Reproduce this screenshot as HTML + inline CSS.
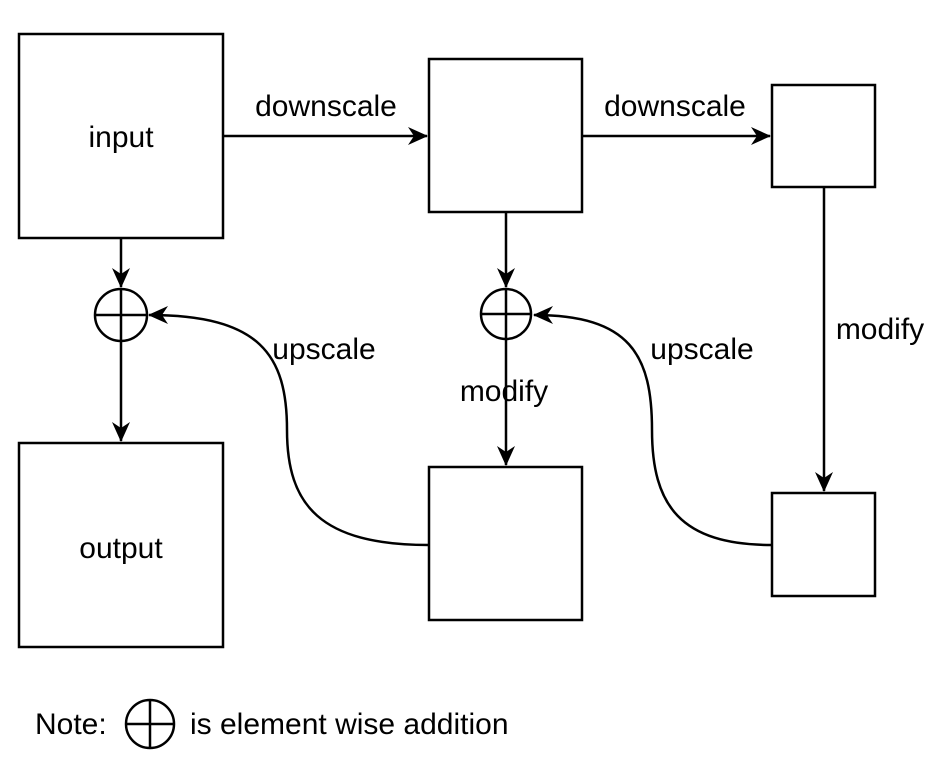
<!DOCTYPE html>
<html><head><style>
html,body{margin:0;padding:0;background:#fff;}
svg{display:block;}
text{font-family:"Liberation Sans",Arial,sans-serif;font-size:30px;fill:#000;}
</style></head><body>
<svg width="936" height="758" viewBox="0 0 936 758" xmlns="http://www.w3.org/2000/svg">
<defs>
<marker id="a" markerWidth="20" markerHeight="20" refX="19" refY="10" orient="auto" markerUnits="userSpaceOnUse">
<path d="M0,1 L20,10 L0,19 L6,10 Z" fill="#000"/>
</marker>
</defs>
<g fill="none" stroke="#000" stroke-width="2.5">
<rect x="19" y="34" width="204" height="204"/>
<rect x="429" y="59" width="153" height="153"/>
<rect x="772" y="85" width="103" height="102"/>
<rect x="19" y="443" width="204" height="204"/>
<rect x="429" y="467" width="153" height="153"/>
<rect x="772" y="493" width="103" height="103"/>
<circle cx="121" cy="315" r="26"/>
<path d="M95,315 H147 M121,289 V341"/>
<circle cx="506" cy="314" r="25"/>
<path d="M481,314 H531 M506,289 V339"/>
<path d="M223,136 H427" marker-end="url(#a)"/>
<path d="M582,136 H770" marker-end="url(#a)"/>
<path d="M121,238 V287" marker-end="url(#a)"/>
<path d="M121,341 V441" marker-end="url(#a)"/>
<path d="M506,212 V287" marker-end="url(#a)"/>
<path d="M506,339 V465" marker-end="url(#a)"/>
<path d="M824,187 V491" marker-end="url(#a)"/>
<path d="M429,545 C320,545 287,505 287,430 C287,355 260,315 149,315" marker-end="url(#a)"/>
<path d="M772,545 C680,545 652,505 652,430 C652,355 630,315 534,315" marker-end="url(#a)"/>
<circle cx="150" cy="724" r="24"/>
<path d="M126,724 H174 M150,700 V748"/>
</g>
<text x="121" y="147" text-anchor="middle">input</text>
<text x="121" y="558" text-anchor="middle">output</text>
<text x="326" y="116" text-anchor="middle">downscale</text>
<text x="675" y="116" text-anchor="middle">downscale</text>
<text x="324" y="359" text-anchor="middle">upscale</text>
<text x="702" y="359" text-anchor="middle">upscale</text>
<text x="504" y="401" text-anchor="middle">modify</text>
<text x="880" y="339" text-anchor="middle">modify</text>
<text x="35" y="734">Note:</text>
<text x="190" y="734">is element wise addition</text>
</svg>
</body></html>
